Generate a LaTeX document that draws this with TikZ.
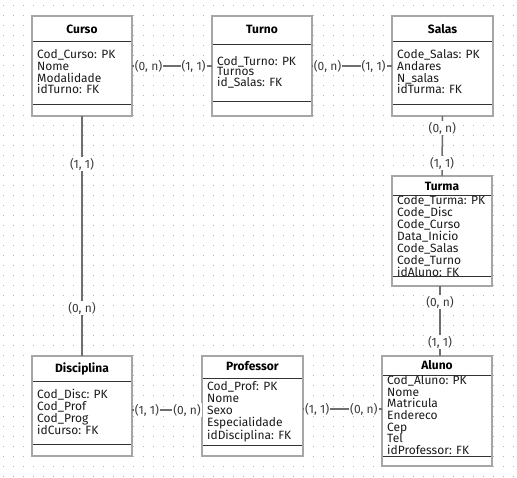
\documentclass[tikz,border=0pt]{standalone}
\usepackage{fontspec}
\setmainfont{Fira Sans}
\usetikzlibrary{calc}
\definecolor{borderc}{HTML}{A6A6A6}
\definecolor{divc}{HTML}{333333}
\definecolor{connc}{HTML}{6E6E6E}
\definecolor{lblc}{HTML}{3A3A3A}
\definecolor{txtc}{HTML}{1A1A1A}
\definecolor{dotc}{HTML}{B4B4B4}
\begin{document}
\begin{tikzpicture}[x=1pt,y=-1pt,
  entbox/.style={draw=borderc, line width=1.6pt, fill=white, anchor=north west, outer sep=0pt, inner sep=0pt},
  div/.style={draw=divc, line width=0.8pt},
  enttitle/.style={font=\bfseries\fontsize{12}{14}\selectfont, text=black, inner sep=0pt},
  entbody/.style={font=\fontsize{12}{11.7}\selectfont, text=txtc, align=left, anchor=west, inner sep=0pt},
  conn/.style={draw=connc, line width=1.5pt},
  lbl/.style={font=\fontsize{12}{14}\selectfont, text=lblc, fill=white, inner sep=1pt}
]
\useasboundingbox (0,0) rectangle (517,478);
\fill[white] (0,0) rectangle (517,478);
% dotted grid
\foreach \i in {0,...,51}{
  \foreach \j in {0,...,47}{
    \fill[dotc] ({2.5+10*\i},{5.5+10*\j}) rectangle +(1,1);
  }
}
% ---------- Curso ----------
\node[entbox, minimum width=100pt, minimum height=100pt] (curso) at (32,16) {};
\draw[div] ($(curso.west |- 0,41)+(0.8,0)$) -- ($(curso.east |- 0,41)+(-0.8,0)$);
\draw[div] ($(curso.west |- 0,104)+(0.8,0)$) -- ($(curso.east |- 0,104)+(-0.8,0)$);
\node[enttitle] (curso-t) at (82,29) {Curso};
\node[entbody] (curso-b) at (37,72) {Cod\_Curso: PK\\Nome\\Modalidade\\idTurno: FK};
% ---------- Turno ----------
\node[entbox, minimum width=100pt, minimum height=100pt] (turno) at (212,16) {};
\draw[div] ($(turno.west |- 0,44)+(0.8,0)$) -- ($(turno.east |- 0,44)+(-0.8,0)$);
\draw[div] ($(turno.west |- 0,101)+(0.8,0)$) -- ($(turno.east |- 0,101)+(-0.8,0)$);
\node[enttitle] (turno-t) at (262,29) {Turno};
\node[entbody, font=\fontsize{12}{10.6}\selectfont] (turno-b) at (217,72) {Cod\_Turno: PK\\Turnos\\id\_Salas: FK};
% ---------- Salas ----------
\node[entbox, minimum width=101pt, minimum height=100pt] (salas) at (392,16) {};
\draw[div] ($(salas.west |- 0,41)+(0.8,0)$) -- ($(salas.east |- 0,41)+(-0.8,0)$);
\draw[div] ($(salas.west |- 0,104)+(0.8,0)$) -- ($(salas.east |- 0,104)+(-0.8,0)$);
\node[enttitle] (salas-t) at (442.5,29) {Salas};
\node[entbody] (salas-b) at (397,72) {Code\_Salas: PK\\Andares\\N\_salas\\idTurma: FK};
% ---------- Turma ----------
\node[entbox, minimum width=100pt, minimum height=110pt] (turma) at (392,176) {};
\draw[div] ($(turma.west |- 0,195)+(0.8,0)$) -- ($(turma.east |- 0,195)+(-0.8,0)$);
\draw[div] ($(turma.west |- 0,276)+(0.8,0)$) -- ($(turma.east |- 0,276)+(-0.8,0)$);
\node[enttitle] (turma-t) at (442,186) {Turma};
\node[entbody, font=\fontsize{12}{12}\selectfont] (turma-b) at (397,236) {Code\_Turma: PK\\Code\_Disc\\Code\_Curso\\Data\_Inicio\\Code\_Salas\\Code\_Turno\\idAluno: FK};
% ---------- Disciplina ----------
\node[entbox, minimum width=100pt, minimum height=100pt] (disc) at (32,356) {};
\draw[div] ($(disc.west |- 0,381)+(0.8,0)$) -- ($(disc.east |- 0,381)+(-0.8,0)$);
\draw[div] ($(disc.west |- 0,444)+(0.8,0)$) -- ($(disc.east |- 0,444)+(-0.8,0)$);
\node[enttitle] (disc-t) at (82,369) {Disciplina};
\node[entbody, font=\fontsize{12}{12}\selectfont] (disc-b) at (37,411.5) {Cod\_Disc: PK\\Cod\_Prof\\Cod\_Prog\\idCurso: FK};
% ---------- Professor ----------
\node[entbox, minimum width=101pt, minimum height=100pt] (prof) at (202,356) {};
\draw[div] ($(prof.west |- 0,378)+(0.8,0)$) -- ($(prof.east |- 0,378)+(-0.8,0)$);
\draw[div] ($(prof.west |- 0,445)+(0.8,0)$) -- ($(prof.east |- 0,445)+(-0.8,0)$);
\node[enttitle] (prof-t) at (252.5,366.5) {Professor};
\node[entbody, font=\fontsize{12}{11.9}\selectfont] (prof-b) at (207,412) {Cod\_Prof: PK\\Nome\\Sexo\\Especialidade\\idDisciplina: FK};
% ---------- Aluno ----------
\node[entbox, minimum width=110pt, minimum height=110pt] (aluno) at (382,356) {};
\draw[div] ($(aluno.west |- 0,375)+(0.8,0)$) -- ($(aluno.east |- 0,375)+(-0.8,0)$);
\draw[div] ($(aluno.west |- 0,456)+(0.8,0)$) -- ($(aluno.east |- 0,456)+(-0.8,0)$);
\node[enttitle] (aluno-t) at (437,365) {Aluno};
\node[entbody] (aluno-b) at (387,415) {Cod\_Aluno: PK\\Nome\\Matricula\\Endereco\\Cep\\Tel\\idProfessor: FK};
% ---------- Connectors ----------
\draw[conn] (curso.east) -- (turno.west)
  node[lbl, pos=0.206] (l1a) {(0, n)}
  node[lbl, pos=0.77] (l1b) {(1, 1)};
\draw[conn] (turno.east) -- (salas.west)
  node[lbl, pos=0.194] (l2a) {(0, n)}
  node[lbl, pos=0.77] (l2b) {(1, 1)};
\draw[conn] (salas.south) -- (turma.north)
  node[lbl, pos=0.2] (l3a) {(0, n)}
  node[lbl, pos=0.783] (l3b) {(1, 1)};
\coordinate (ta1) at ($(turma.south)+(-2,0)$);
\coordinate (ta2) at (ta1 |- aluno.north);
\draw[conn] (ta1) -- (ta2)
  node[lbl, pos=0.229] (l4a) {(0, n)}
  node[lbl, pos=0.8] (l4b) {(1, 1)};
\draw[conn] (curso.south) -- (disc.north)
  node[lbl, pos=0.2] (l5a) {(1, 1)}
  node[lbl, pos=0.8] (l5b) {(0, n)};
\coordinate (dp1) at ($(disc.east)+(0,4)$);
\coordinate (dp2) at (dp1 -| prof.west);
\draw[conn] (dp1) -- (dp2)
  node[lbl, pos=0.214] (l6a) {(1, 1)}
  node[lbl, pos=0.786] (l6b) {(0, n)};
\coordinate (pa1) at ($(prof.east)+(0,3)$);
\coordinate (pa2) at (pa1 -| aluno.west);
\draw[conn] (pa1) -- (pa2)
  node[lbl, pos=0.18] (l7a) {(1, 1)}
  node[lbl, pos=0.77] (l7b) {(0, n)};
\end{tikzpicture}
\end{document}
